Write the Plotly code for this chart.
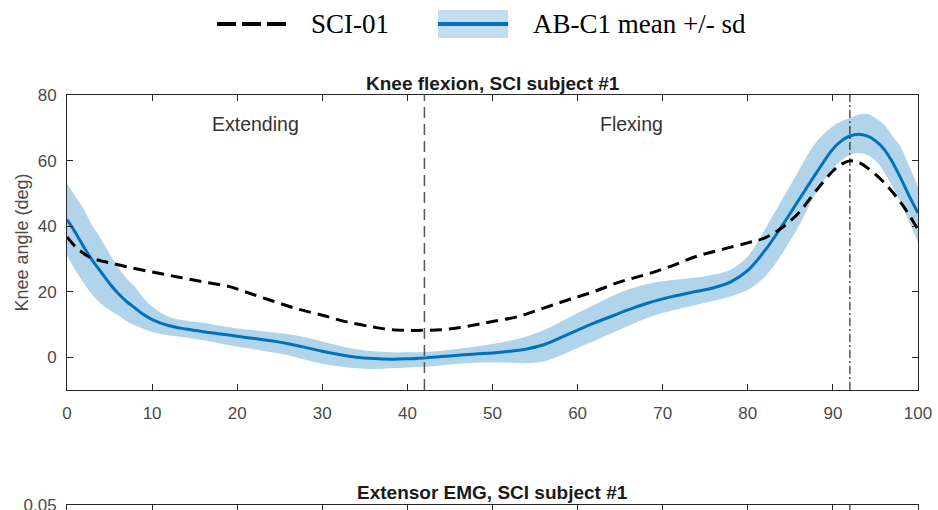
import plotly.graph_objects as go

# ---------------- data ----------------
# gait cycle (%) grid for the able-bodied reference band
ab_x = [0, 1, 2, 3, 4, 5, 6, 7, 8, 9, 10, 12, 14, 16, 18, 20, 22, 24, 26, 28, 30,
        32, 34, 36, 38, 40, 42, 44, 46, 48, 50, 52, 54, 56, 58, 60, 62, 64, 66,
        68, 70, 72, 74, 76, 78, 80, 82, 84, 86, 88, 90, 91, 92, 93, 94, 95, 96,
        97, 98, 99, 100]
ab_mean = [42, 38, 33.5, 29.5, 26, 22.5, 19.5, 17, 15, 13, 11.5, 9.6, 8.6, 7.8, 7.1,
           6.4, 5.7, 5, 4.1, 3, 1.8, 0.8, 0, -0.4, -0.6, -0.5, -0.2, 0.2, 0.6, 1,
           1.3, 1.8, 2.5, 3.8, 6, 8.3, 10.5, 12.5, 14.5, 16.3, 17.8, 19, 20.1, 21.2,
           23, 26.5, 32.5, 40, 48, 56, 63.5, 66, 67.5, 68, 67.5, 66, 63.5, 59.5,
           54.5, 49, 44]
ab_upper = [53, 49, 45, 40, 36, 31.5, 27.5, 24, 21.4, 18, 15.5, 12.3, 11.2, 10.5, 9.6,
            8.8, 8.2, 7.6, 7, 6.1, 4.8, 3.5, 2.4, 1.8, 1.5, 1.5, 1.6, 2, 2.6, 3.3,
            4, 5, 6.3, 8.2, 10.8, 13.5, 16, 18.6, 20.7, 22.3, 23.2, 23.8, 24.3, 25.2,
            26.7, 30.8, 39, 48, 57, 65.5, 70.5, 72, 73, 74, 74.2, 73, 71, 67.5, 64,
            58, 52]
ab_lower = [31, 26.5, 22.4, 19, 16.3, 14.3, 12.8, 11, 9.7, 8.6, 7.7, 6.6, 6, 5.2, 4.2,
            3.2, 2.4, 1.5, 0.6, -0.8, -2, -2.8, -3.4, -3.6, -3.4, -3.1, -2.9, -2.5,
            -2, -1.7, -1.6, -1.7, -1.8, -1.3, 0.5, 2.8, 5, 7.3, 9.6, 11.8, 13.5, 14.8,
            16, 17.2, 18.6, 20.6, 24.5, 31.5, 40, 50, 57.5, 60, 61.8, 62.2, 61.8, 60,
            56.5, 52, 47, 41, 35]

sci_x = [0, 1, 2, 3, 4, 5, 7, 10, 13, 16, 19, 21, 24, 27, 30, 33, 36, 38, 40, 42, 44,
         46, 48, 50, 53, 56, 59, 62, 65, 68, 71, 74, 77, 80, 82, 84, 86, 88, 90, 91,
         92, 93, 94, 96, 98, 100]
sci_knee = [36.7, 33.7, 31.6, 30.1, 29.4, 28.8, 27.6, 26, 24.5, 23, 21.6, 19.9, 17.3,
            14.8, 12.8, 10.7, 9.2, 8.4, 8.2, 8.2, 8.4, 9, 9.9, 10.9, 12.4, 15, 17.6,
            20.1, 23, 25.2, 27.8, 30.8, 32.9, 34.9, 36.4, 39.5, 44.1, 50.7, 56.8,
            58.9, 59.9, 59.4, 57.9, 53.3, 47.1, 39]

phase_split = 42      # end of extension / start of flexion (%)
peak_event = 92       # dash-dot event marker (%)
x_ticks = [0, 10, 20, 30, 40, 50, 60, 70, 80, 90, 100]
y_ticks = [0, 20, 40, 60, 80]
legend_labels = ["SCI-01", "AB-C1 mean +/- sd"]
phase_labels = ["Extending", "Flexing"]
phase_label_x = [22.2, 66.3]
phase_label_y = 71.3

# ---------------- styling / layout ----------------
PAGE_W, PAGE_H = 938, 510
PLOT_L, PLOT_R, PLOT_T, PLOT_B = 67, 918, 95, 510   # page px of full plot area
W, H = PAGE_W, PAGE_H
ML, MT = PLOT_L, PLOT_T
MR = W - PLOT_R
MB = H - PLOT_B
PW, PH = PLOT_R - PLOT_L, PLOT_B - PLOT_T

BLUE = "#0072BD"
AXC = "#262626"
TICKC = "#4a4a4a"
SANS = "Arial, 'Liberation Sans', Helvetica, sans-serif"
SERIF = "'Times New Roman', 'Liberation Serif', serif"


def px_x(p):
    return (p - PLOT_L) / PW


def px_y(p):
    return (PLOT_B - p) / PH


ax1_bottom = 390
ax2_top = 505

fig = go.Figure()
fig.add_trace(go.Scatter(x=ab_x, y=ab_upper, mode="lines",
                         line=dict(width=0, shape="spline", color=BLUE),
                         showlegend=False, hoverinfo="skip"))
fig.add_trace(go.Scatter(x=ab_x, y=ab_lower, mode="lines",
                         line=dict(width=0, shape="spline", color=BLUE),
                         fill="tonexty", fillcolor="rgba(0,114,189,0.30)",
                         showlegend=False, hoverinfo="skip"))
fig.add_trace(go.Scatter(x=ab_x, y=ab_mean, mode="lines", name=legend_labels[1],
                         line=dict(color=BLUE, width=3, shape="spline"),
                         showlegend=False))
fig.add_trace(go.Scatter(x=sci_x, y=sci_knee, mode="lines", name=legend_labels[0],
                         line=dict(color="black", width=3, dash="12px,7px", shape="spline"),
                         showlegend=False))
# second (EMG) panel, only its top edge is visible
fig.add_trace(go.Scatter(x=[], y=[], xaxis="x2", yaxis="y2", showlegend=False))

axis_common = dict(showline=True, linecolor=AXC, linewidth=1, mirror="ticks",
                   ticks="inside", ticklen=6, tickcolor=AXC, tickwidth=1,
                   showgrid=False, zeroline=False, ticklabeloverflow="allow",
                   tickfont=dict(family=SANS, size=17, color=TICKC))

fig.update_layout(
    width=W, height=H,
    margin=dict(l=ML, r=MR, t=MT, b=MB, pad=0, autoexpand=False),
    paper_bgcolor="white", plot_bgcolor="white",
    showlegend=False,
    xaxis=dict(domain=[0, 1], anchor="y", range=[0, 100], tickvals=x_ticks,
               ticklabelstandoff=8, **axis_common),
    yaxis=dict(domain=[px_y(ax1_bottom), 1], anchor="x", range=[-10, 80],
               tickvals=y_ticks, ticklabelstandoff=6,
               title=dict(text="Knee angle (deg)", standoff=4,
                          font=dict(family=SANS, size=18, color=TICKC)),
               **axis_common),
    xaxis2=dict(domain=[0, 1], anchor="y2", range=[0, 100], tickvals=x_ticks,
                showticklabels=False, **axis_common),
    yaxis2=dict(domain=[0, px_y(ax2_top)], anchor="x2", range=[0.04, 0.05],
                tickvals=[0.05], ticktext=["0.05"], ticklabelstandoff=6,
                **axis_common),
)

shapes = [
    dict(type="line", xref="x", yref="y domain", x0=phase_split, x1=phase_split,
         y0=0, y1=1, line=dict(color="#555555", width=1.5, dash="11px,6px")),
    dict(type="line", xref="x", yref="y domain", x0=peak_event, x1=peak_event,
         y0=0, y1=1, line=dict(color="black", width=1, dash="8px,3px,2px,3px")),
    dict(type="line", xref="x2", yref="y2 domain", x0=peak_event, x1=peak_event,
         y0=0, y1=1, line=dict(color="black", width=1, dash="8px,3px,2px,3px")),
    # legend keys
    dict(type="line", xref="paper", yref="paper", x0=px_x(217), x1=px_x(286),
         y0=px_y(24), y1=px_y(24), line=dict(color="black", width=4, dash="19px,6px")),
    dict(type="rect", xref="paper", yref="paper", x0=px_x(438), x1=px_x(508),
         y0=px_y(38), y1=px_y(10), fillcolor="rgba(0,114,189,0.24)", line=dict(width=0)),
    dict(type="line", xref="paper", yref="paper", x0=px_x(438), x1=px_x(508),
         y0=px_y(24), y1=px_y(24), line=dict(color=BLUE, width=4)),
]
fig.update_layout(shapes=shapes)

annotations = [
    dict(text=legend_labels[0], xref="paper", yref="paper", x=px_x(309), y=px_y(24),
         xanchor="left", yanchor="middle", showarrow=False,
         font=dict(family=SERIF, size=27, color="black")),
    dict(text=legend_labels[1], xref="paper", yref="paper", x=px_x(531), y=px_y(24),
         xanchor="left", yanchor="middle", showarrow=False,
         font=dict(family=SERIF, size=27, color="black")),
    dict(text="<b>Knee flexion, SCI subject #1</b>", xref="paper", yref="paper",
         x=0.5, y=px_y(83), xanchor="center", yanchor="middle", showarrow=False,
         font=dict(family=SANS, size=19, color="#1a1a1a")),
    dict(text="<b>Extensor EMG, SCI subject #1</b>", xref="paper", yref="paper",
         x=0.5, y=px_y(492), xanchor="center", yanchor="middle", showarrow=False,
         font=dict(family=SANS, size=19, color="#1a1a1a")),
]
for lab, lx in zip(phase_labels, phase_label_x):
    annotations.append(dict(text=lab, xref="x", yref="y", x=lx, y=phase_label_y,
                            xanchor="center", yanchor="middle", showarrow=False,
                            font=dict(family=SANS, size=19.5, color="#333333")))
fig.update_layout(annotations=annotations)

# remove the browser's default body margin / scrollbars so the figure fills the page
fig.write_html("out.html",
               config={"displayModeBar": False},
               post_script="document.body.style.margin='0';"
                           "document.body.style.overflow='hidden';")
